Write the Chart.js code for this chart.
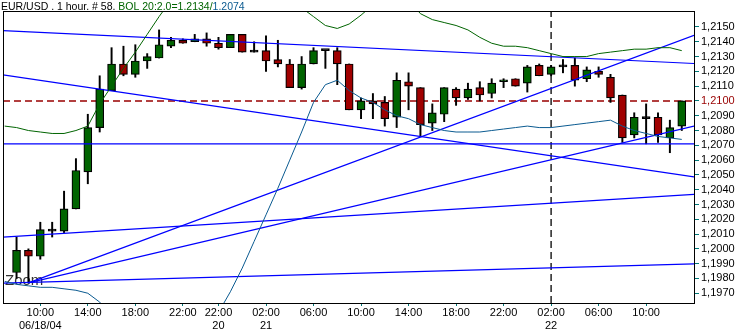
<!DOCTYPE html>
<html>
<head>
<meta charset="utf-8">
<title>EUR/USD 1 hour</title>
<script src="https://cdn.jsdelivr.net/npm/chart.js@4.4.1/dist/chart.umd.min.js"></script>
<style>
  html, body { margin: 0; padding: 0; background: #fff; }
  canvas { display: block; }
</style>
</head>
<body>
<canvas id="grafico" width="744" height="332"></canvas>
<script>
// ******************************* DATOS ****************************
// Velas horarias (índice 0 = 06/18/04 08:00)
const open = [
  1.1984, 1.1999, 1.1995, 1.2012, 1.2012, 1.2027, 1.2052, 1.2082, 1.2107, 1.2125,
  1.2118, 1.2127, 1.2129, 1.2137, 1.2141, 1.2140, 1.2142, 1.2139, 1.2136, 1.2145,
  1.2133, 1.2134, 1.2128, 1.2125, 1.2109, 1.2125, 1.2134, 1.2134, 1.2125, 1.2094,
  1.2100, 1.2099, 1.2089, 1.2113, 1.2109, 1.2085, 1.2091, 1.2108, 1.2102, 1.2109,
  1.2105, 1.2113, 1.2115, 1.2112, 1.2124, 1.2118, 1.2123, 1.2124, 1.2115, 1.2120,
  1.2116, 1.2104, 1.2077, 1.2088, 1.2089, 1.2075, 1.2083,
];
const high = [
  1.2008, 1.2000, 1.2018, 1.2018, 1.2039, 1.2061, 1.2091, 1.2117, 1.2136, 1.2137,
  1.2138, 1.2132, 1.2148, 1.2143, 1.2142, 1.2145, 1.2146, 1.2143, 1.2145, 1.2145,
  1.2140, 1.2144, 1.2141, 1.2128, 1.2130, 1.2136, 1.2134, 1.2136, 1.2125, 1.2102,
  1.2105, 1.2103, 1.2119, 1.2119, 1.2109, 1.2098, 1.2109, 1.2109, 1.2112, 1.2113,
  1.2115, 1.2115, 1.2115, 1.2124, 1.2125, 1.2124, 1.2128, 1.2129, 1.2123, 1.2123,
  1.2118, 1.2104, 1.2092, 1.2098, 1.2092, 1.2087, 1.2100,
];
const low = [
  1.1980, 1.1977, 1.1993, 1.2008, 1.2011, 1.2027, 1.2044, 1.2079, 1.2107, 1.2117,
  1.2116, 1.2122, 1.2129, 1.2136, 1.2139, 1.2140, 1.2137, 1.2135, 1.2136, 1.2133,
  1.2133, 1.2120, 1.2123, 1.2109, 1.2108, 1.2125, 1.2122, 1.2111, 1.2094, 1.2088,
  1.2088, 1.2083, 1.2082, 1.2094, 1.2076, 1.2080, 1.2086, 1.2097, 1.2101, 1.2100,
  1.2102, 1.2109, 1.2110, 1.2106, 1.2117, 1.2117, 1.2119, 1.2110, 1.2113, 1.2116,
  1.2099, 1.2072, 1.2075, 1.2071, 1.2072, 1.2065, 1.2080,
];
const close = [
  1.1999, 1.1995, 1.2013, 1.2012, 1.2027, 1.2053, 1.2082, 1.2108, 1.2125, 1.2118,
  1.2127, 1.2130, 1.2138, 1.2141, 1.2139, 1.2142, 1.2139, 1.2136, 1.2145, 1.2133,
  1.2133, 1.2127, 1.2125, 1.2109, 1.2125, 1.2134, 1.2134, 1.2125, 1.2094, 1.2100,
  1.2098, 1.2088, 1.2114, 1.2110, 1.2084, 1.2092, 1.2109, 1.2102, 1.2108, 1.2104,
  1.2112, 1.2114, 1.2110, 1.2123, 1.2117, 1.2123, 1.2123, 1.2114, 1.2121, 1.2118,
  1.2102, 1.2075, 1.2089, 1.2088, 1.2077, 1.2082, 1.2100,
];

// Bandas de Bollinger 20:2.0 (empiezan una hora antes de la primera vela)
const bandStart = -1;
const bandUpper = [
  1.2083, 1.2082, 1.2080, 1.2079, 1.2078, 1.2078, 1.2080, 1.2083, 1.2098, 1.2110,
  1.2122, 1.2133, 1.2145, 1.2157, 1.2168, 1.2176, 1.2180, 1.2182, 1.2183, 1.2183,
  1.2182, 1.2180, 1.2178, 1.2175, 1.2170, 1.2163, 1.2157, 1.2151, 1.2149, 1.2152,
  1.2158, 1.2165, 1.2170, 1.2172, 1.2168, 1.2159, 1.2155, 1.2153, 1.2151, 1.2148,
  1.2143, 1.2139, 1.2137, 1.2137, 1.2136, 1.2134, 1.2132, 1.2130, 1.2130, 1.2130,
  1.2132, 1.2133, 1.2134, 1.2135, 1.2135, 1.2136, 1.2136, 1.2134,
];
const bandLower = [
  1.1978, 1.1976, 1.1975, 1.1974, 1.1974, 1.1973, 1.1972, 1.1970, 1.1964, 1.1955,
  1.1945, 1.1937, 1.1930, 1.1925, 1.1922, 1.1921, 1.1925, 1.1940, 1.1957, 1.1971,
  1.1987, 1.2005, 1.2023, 1.2041, 1.2060, 1.2079, 1.2099, 1.2111, 1.2114, 1.2107,
  1.2102, 1.2099, 1.2094, 1.2090, 1.2088, 1.2084, 1.2082, 1.2080, 1.2079, 1.2079,
  1.2079, 1.2080, 1.2081, 1.2082, 1.2083, 1.2082, 1.2082, 1.2083, 1.2084, 1.2085,
  1.2086, 1.2087, 1.2083, 1.2080, 1.2078, 1.2076, 1.2075, 1.2074,
];

// Eje horizontal: posiciones (índice de vela) y textos
const tickIndex = [2, 6, 10, 14, 17, 21, 25, 29, 33, 37, 41, 45, 49, 53];
const tickTime = ["10:00", "14:00", "18:00", "22:00", "22:00", "02:00", "06:00",
                  "10:00", "14:00", "18:00", "22:00", "02:00", "06:00", "10:00"];
const tickDate = ["06/18/04", "", "", "", "20", "21", "", "", "", "", "", "22", "", ""];

// Eje vertical
const yTicks = [1.1970, 1.1980, 1.1990, 1.2000, 1.2010, 1.2020, 1.2030, 1.2040, 1.2050,
                1.2060, 1.2070, 1.2080, 1.2090, 1.2100, 1.2110, 1.2120, 1.2130, 1.2140, 1.2150];

const X_MIN = -1.14, X_MAX = 57.03;
const Y_MIN = 1.19634, Y_MAX = 1.21608;

// Líneas de tendencia dibujadas sobre el gráfico
const trendLines = [
  { x0: X_MIN, y0: 1.21476, x1: X_MAX, y1: 1.21253 },
  { x0: X_MIN, y0: 1.21176, x1: X_MAX, y1: 1.20486 },
  { x0: X_MIN, y0: 1.2071,  x1: X_MAX, y1: 1.2071 },
  { x0: X_MIN, y0: 1.20079, x1: X_MAX, y1: 1.20368 },
  { x0: 1,     y0: 1.1977,  x1: X_MAX, y1: 1.21443 },
  { x0: 1,     y0: 1.1977,  x1: X_MAX, y1: 1.2083 },
  { x0: X_MIN, y0: 1.19768, x1: X_MAX, y1: 1.19898 },
];
const priceLevel = 1.2100;   // línea discontinua roja
const daySplit = 45;         // separador vertical (día 22)

// ******************************* GRÁFICO ****************************
const FONT = "'Liberation Sans', Arial, sans-serif";
const VERDE = "#006400";
const ROJO = "#a00000";
const AZUL = "#0000ff";
const BANDA_INF = "#0a5a90";

Chart.defaults.font.family = FONT;

let wicks = [];
let bodies = [];
let bodyColors = [];
for (let i = 0; i < open.length; i++) {
  wicks.push({ x: i, y: [low[i], high[i]] });
  bodies.push({ x: i, y: [open[i], close[i]] });
  if (close[i] > open[i]) {
    bodyColors.push(VERDE);
  } else if (close[i] < open[i]) {
    bodyColors.push(ROJO);
  } else {
    bodyColors.push("#000");
  }
}

function bandPoints(values) {
  return values.map(function (v, i) {
    return { x: bandStart + i, y: v };
  });
}

function lineDataset(data, color, extra) {
  return Object.assign({
    type: "line",
    data: data,
    borderColor: color,
    borderWidth: 1,
    pointRadius: 0,
    fill: false,
    tension: 0,
    order: 0,
  }, extra || {});
}

let datasets = [
  lineDataset([{ x: X_MIN, y: priceLevel }, { x: X_MAX, y: priceLevel }], "#990000",
    { borderDash: [7, 4], borderWidth: 1.4, order: 5 }),
  lineDataset([{ x: daySplit, y: Y_MIN }, { x: daySplit, y: Y_MAX }], "#000",
    { borderDash: [7, 4], borderWidth: 1.3, order: 5 }),
  {
    type: "bar",
    data: wicks,
    backgroundColor: "#000",
    borderWidth: 0,
    barThickness: 1.3,
    grouped: false,
    order: 4,
  },
  {
    type: "bar",
    data: bodies,
    backgroundColor: bodyColors,
    borderColor: "#000",
    borderWidth: 1.2,
    borderSkipped: false,
    barThickness: 8,
    minBarLength: 2,
    grouped: false,
    order: 3,
  },
  lineDataset(bandPoints(bandUpper), VERDE),
  lineDataset(bandPoints(bandLower), BANDA_INF),
];
trendLines.forEach(function (t) {
  datasets.push(lineDataset([{ x: t.x0, y: t.y0 }, { x: t.x1, y: t.y1 }], AZUL,
    { borderWidth: 1.2 }));
});

/**
 * Marco superior/izquierdo, título en colores y la etiqueta "Zoom"
 */
const marco = {
  id: "marco",
  beforeDatasetsDraw(chart) {
    const ctx = chart.ctx;
    ctx.save();
    ctx.fillStyle = "#333";
    ctx.font = "15px " + FONT;
    ctx.textBaseline = "alphabetic";
    ctx.fillText("Zoom", chart.chartArea.left + 2, 285);
    ctx.restore();
  },
  afterDraw(chart) {
    const ctx = chart.ctx;
    const a = chart.chartArea;
    ctx.save();
    ctx.fillStyle = "#000";
    ctx.fillRect(a.left, a.top, a.right - a.left, 1);
    ctx.fillRect(a.left, a.top, 1, a.bottom - a.top);

    const partes = [
      ["EUR/USD . 1 hour. # " + (open.length + 1) + ". ", "#000"],
      ["BOL 20:2.0=" + bandUpper[bandUpper.length - 1].toFixed(4) + "/", VERDE],
      [bandLower[bandLower.length - 1].toFixed(4), BANDA_INF],
    ];
    ctx.font = "10.5px " + FONT;
    ctx.textBaseline = "alphabetic";
    let x = 1;
    partes.forEach(function (p) {
      ctx.fillStyle = p[1];
      ctx.fillText(p[0], x, 9.5);
      x += ctx.measureText(p[0]).width;
    });
    ctx.restore();
  },
};

new Chart(document.getElementById("grafico"), {
  type: "bar",
  data: { datasets: datasets },
  options: {
    responsive: false,
    animation: false,
    layout: { padding: { left: 3, top: 11, right: 0, bottom: 0 } },
    plugins: {
      legend: { display: false },
      tooltip: { enabled: false },
    },
    scales: {
      x: {
        type: "linear",
        min: X_MIN,
        max: X_MAX,
        offset: false,
        grid: { drawOnChartArea: false, offset: false, tickLength: 3, color: "#007878" },
        border: { color: "#000" },
        afterBuildTicks: function (s) {
          s.ticks = tickIndex.map(function (v) { return { value: v }; });
        },
        afterFit: function (s) { s.height = 29; },
        ticks: {
          autoSkip: false,
          maxRotation: 0,
          padding: 0,
          color: "#000",
          font: { size: 11 },
          callback: function (v, i) { return [tickTime[i], tickDate[i]]; },
        },
      },
      y: {
        position: "right",
        min: Y_MIN,
        max: Y_MAX,
        grid: { drawOnChartArea: false, tickLength: 5, color: "#007878" },
        border: { color: "#000" },
        afterBuildTicks: function (s) {
          s.ticks = yTicks.map(function (v) { return { value: v }; });
        },
        afterFit: function (s) { s.width = 50; },
        ticks: {
          padding: 2,
          font: { size: 11 },
          color: function (c) {
            return c.tick && Math.abs(c.tick.value - priceLevel) < 1e-7 ? "#990000" : "#000";
          },
          callback: function (v) { return v.toFixed(4).replace(".", ","); },
        },
      },
    },
  },
  plugins: [marco],
});
</script>
</body>
</html>
